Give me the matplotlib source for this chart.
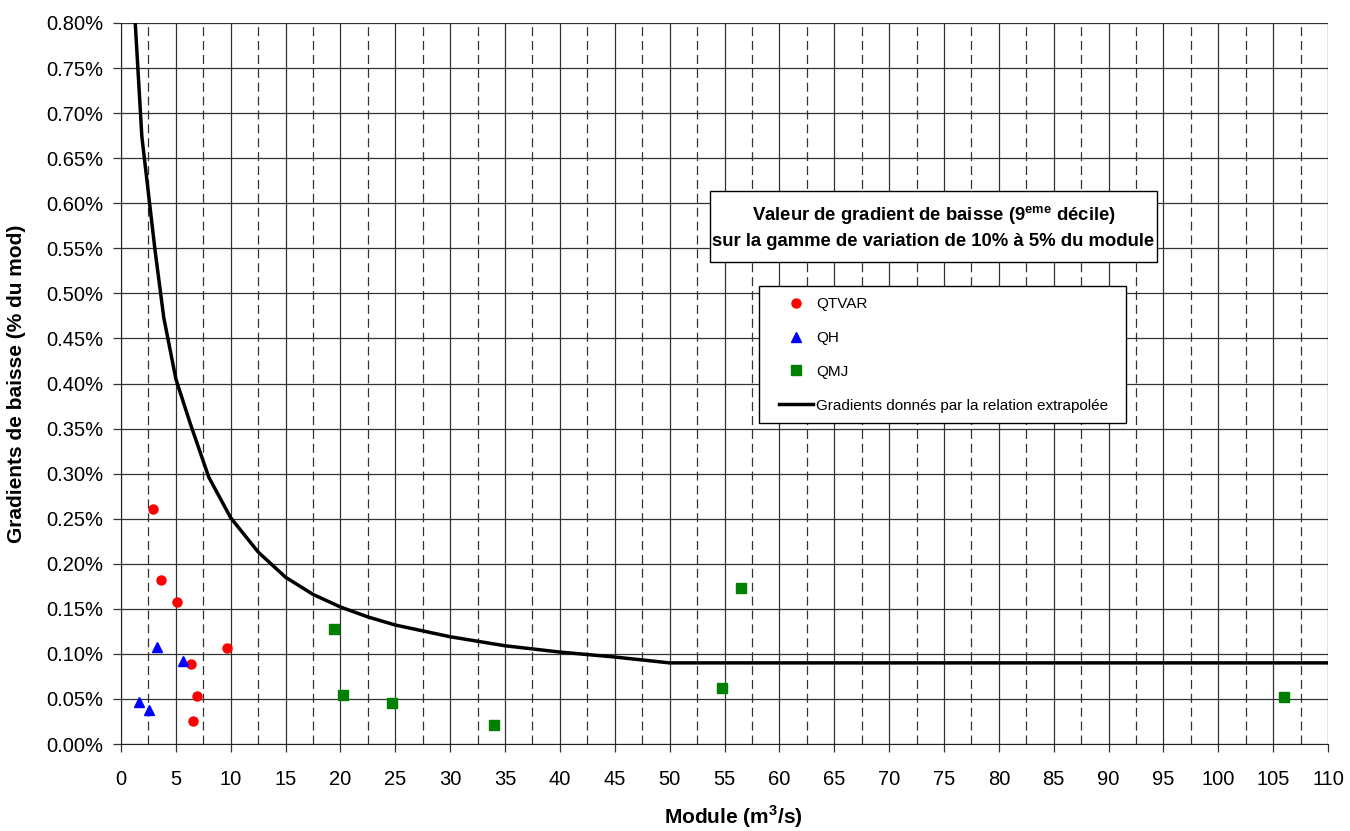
import matplotlib
matplotlib.use("Agg")
import matplotlib.pyplot as plt
from matplotlib.ticker import MultipleLocator, FuncFormatter
from matplotlib.lines import Line2D
from matplotlib.patches import Rectangle

plt.rcParams['font.family'] = ['Liberation Sans', 'DejaVu Sans']
plt.rcParams['mathtext.fontset'] = 'custom'
plt.rcParams['mathtext.rm'] = 'Liberation Sans'
plt.rcParams['mathtext.bf'] = 'Liberation Sans:bold'
plt.rcParams['lines.scale_dashes'] = False

# Data (y values in %)
qtvar_x = [2.94, 3.65, 5.1, 9.63, 6.38, 6.93, 6.53]
qtvar_y = [0.261, 0.182, 0.158, 0.107, 0.0885, 0.0536, 0.0252]

qh_x = [3.25, 5.62, 1.64, 2.58]
qh_y = [0.108, 0.092, 0.047, 0.038]

qmj_x = [19.45, 20.2, 24.7, 34.0, 54.8, 56.5, 106.0]
qmj_y = [0.128, 0.0547, 0.0458, 0.0207, 0.0625, 0.1735, 0.0525]

curve_x = [1.25, 1.9, 2.5, 3.1, 3.9, 5.0, 6.3, 8.0, 10, 12.5, 15, 17.5, 20,
           22.5, 25, 30, 35, 40, 45, 50, 110]
curve_y = [0.81, 0.674, 0.611, 0.548, 0.473, 0.405, 0.356, 0.296, 0.251,
           0.213, 0.185, 0.166, 0.152, 0.141, 0.132, 0.119, 0.109, 0.102,
           0.0965, 0.090, 0.090]

W, H = 1350, 831
fig = plt.figure(figsize=(W/100, H/100), dpi=100)
ax = fig.add_axes([121/W, 1-744/H, (1328-121)/W, (744-23)/H])

ax.set_xlim(0, 110)
ax.set_ylim(0, 0.8)
ax.xaxis.set_major_locator(MultipleLocator(5))
ax.xaxis.set_minor_locator(MultipleLocator(2.5))
ax.yaxis.set_major_locator(MultipleLocator(0.05))
ax.yaxis.set_major_formatter(FuncFormatter(lambda v, p: f"{v:.2f}%"))

ax.grid(True, which='major', axis='both', color='#333333', lw=0.9, ls='-')
ax.grid(True, which='minor', axis='x', color='#333333', lw=0.9, ls=(0, (6.5, 3.5)))
ax.set_axisbelow(True)

for s in ['top', 'right']:
    ax.spines[s].set_visible(False)
ax.spines['left'].set_color('#222222')
ax.spines['bottom'].set_color('#222222')

ax.tick_params(axis='both', which='major', labelsize=14.5, length=5.5, width=0.9, color='#333333')
ax.tick_params(axis='x', which='minor', length=0)
ax.tick_params(axis='x', which='major', pad=13)
ax.tick_params(axis='y', which='major', pad=7)

ax.plot(curve_x, curve_y, color='black', lw=2.5, zorder=3, solid_joinstyle='round')
ax.plot(qtvar_x, qtvar_y, ls='none', marker='o', ms=6.5, color='#ff0000', mec='#ff0000', zorder=4)
ax.plot(qh_x, qh_y, ls='none', marker='^', ms=7.5, color='#0000ff', mec='#0000ff', zorder=4)
ax.plot(qmj_x, qmj_y, ls='none', marker='s', ms=6.5, color='#008000', mec='#008000', zorder=4)

# Axis labels
fig.text(733/W, 1-817/H, r'Module (m$^{\mathbf{3}}$/s)', ha='center', va='center',
         fontsize=15, fontweight='bold')
fig.text(17/W, 1-383.5/H, 'Gradients de baisse (% du mod)', ha='center', va='center',
         rotation=90, fontsize=15, fontweight='bold')

# Title box
fig.patches.append(Rectangle((710/W, 1-262/H), (1157-710)/W, (262-191)/H,
                             transform=fig.transFigure, fc='white', ec='black',
                             lw=1.0, zorder=9))
fig.text((710+1157)/2/W, 1-227/H,
         'Valeur de gradient de baisse (9$^{\\mathbf{eme}}$ décile)\n'
         'sur la gamme de variation de 10% à 5% du module',
         ha='center', va='center', fontsize=13.3, fontweight='bold', linespacing=1.6,
         zorder=10)

# Legend box
fig.patches.append(Rectangle((759/W, 1-423/H), (1126-759)/W, (423-286)/H,
                             transform=fig.transFigure, fc='white', ec='black',
                             lw=1.0, zorder=9))
handles = [
    Line2D([], [], ls='none', marker='o', ms=6.5, color='#ff0000'),
    Line2D([], [], ls='none', marker='^', ms=7.5, color='#0000ff'),
    Line2D([], [], ls='none', marker='s', ms=6.5, color='#008000'),
    Line2D([], [], color='black', lw=2.5),
]
labels = ['QTVAR', 'QH', 'QMJ', 'Gradients donnés par la relation extrapolée']
leg = fig.legend(handles, labels, loc='upper left',
                 bbox_to_anchor=(779/W, 1-297/H),
                 fontsize=11, frameon=False, labelspacing=1.3,
                 handlelength=2.25, handletextpad=0.2, borderpad=0,
                 borderaxespad=0)
leg.set_zorder(10)

fig.savefig('out.png', dpi=100)
